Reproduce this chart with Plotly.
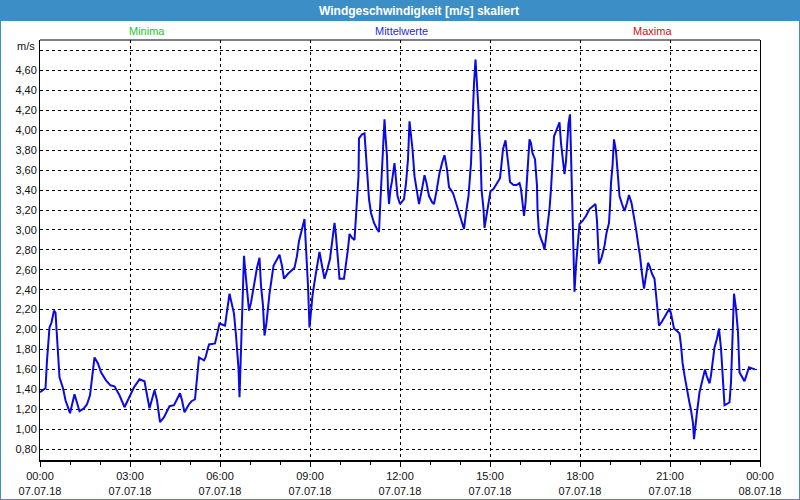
import pandas as pd
import plotly.graph_objects as go

# ---- data ----
times = [
    "00:00", "00:11", "00:14", "00:19", "00:23", "00:28", "00:31", "00:35", "00:39", "00:46",
    "00:51", "01:00", "01:09", "01:19", "01:28", "01:34", "01:40", "01:44", "01:49", "01:56",
    "02:02", "02:12", "02:21", "02:29", "02:39", "02:49", "02:59", "03:08", "03:19", "03:29",
    "03:33", "03:39", "03:49", "03:54", "04:00", "04:08", "04:19", "04:28", "04:35", "04:40",
    "04:44", "04:49", "04:58", "05:03", "05:10", "05:14", "05:18", "05:28", "05:31", "05:38",
    "05:50", "05:55", "05:59", "06:10", "06:13", "06:19", "06:23", "06:28", "06:32", "06:37",
    "06:39", "06:42", "06:44", "06:48", "06:50", "06:55", "06:58", "07:02", "07:08", "07:14",
    "07:19", "07:22", "07:26", "07:29", "07:33", "07:39", "07:47", "07:54", "07:59",
    "08:04", "08:08", "08:16", "08:29", "08:34", "08:38", "08:44", "08:49", "08:50", "08:53",
    "08:56", "08:59", "09:02", "09:05", "09:11", "09:19", "09:24", "09:29", "09:35", "09:40",
    "09:44", "09:49", "09:52", "09:55", "09:59", "10:08", "10:12", "10:16", "10:19", "10:24",
    "10:29", "10:32", "10:34", "10:37", "10:38", "10:44", "10:49", "10:53", "10:58", "11:02",
    "11:08", "11:14", "11:18", "11:20", "11:24", "11:26", "11:29", "11:31", "11:34", "11:36",
    "11:38", "11:41", "11:44", "11:49", "11:52", "11:55", "12:00", "12:08", "12:12", "12:16",
    "12:19", "12:22", "12:25", "12:29", "12:32", "12:35", "12:38", "12:44", "12:49", "12:53",
    "12:58", "13:04", "13:08", "13:13", "13:19", "13:25", "13:29", "13:34", "13:38", "13:46",
    "13:52", "13:59", "14:04", "14:08", "14:12", "14:17", "14:22", "14:25", "14:28", "14:31",
    "14:34", "14:37", "14:38", "14:41", "14:43", "14:47", "14:49", "14:52", "14:56", "15:01",
    "15:07", "15:13", "15:20", "15:23", "15:26", "15:31", "15:34", "15:37", "15:40", "15:47",
    "15:53", "15:59",
    "16:02", "16:05", "16:08", "16:11", "16:13", "16:16", "16:19", "16:22", "16:25", "16:30",
    "16:34", "16:35", "16:38", "16:42", "16:46", "16:49", "16:52", "16:55", "16:59", "17:02",
    "17:05", "17:08", "17:12", "17:16", "17:19", "17:22", "17:25", "17:29", "17:32", "17:35",
    "17:37", "17:40", "17:42", "17:44", "17:46", "17:47", "17:49", "17:52", "17:55", "17:59",
    "18:05", "18:12", "18:19", "18:25", "18:31", "18:34", "18:36", "18:38", "18:43", "18:49",
    "18:53", "18:58", "19:00", "19:02", "19:05", "19:08", "19:12", "19:16", "19:19", "19:24",
    "19:29", "19:34", "19:38", "19:43", "19:47", "19:52", "19:56", "20:00", "20:04", "20:08",
    "20:12", "20:16", "20:19", "20:24", "20:29", "20:32", "20:35", "20:38", "20:44", "20:49",
    "20:55", "20:59", "21:02", "21:05", "21:08", "21:13", "21:19", "21:22", "21:25", "21:29",
    "21:32", "21:35", "21:38", "21:42", "21:46", "21:48", "21:50", "21:54", "21:59", "22:04",
    "22:10", "22:13", "22:19", "22:22", "22:25", "22:29", "22:34", "22:38", "22:42", "22:46",
    "22:49", "22:53", "22:59", "23:02", "23:05", "23:08", "23:12", "23:16", "23:19", "23:24",
    "23:29", "23:34", "23:38", "23:44", "23:50",
]
mittelwerte = [
    1.37, 1.41, 1.69, 2.02, 2.07, 2.19, 2.17, 1.81, 1.52, 1.41,
    1.29, 1.16, 1.35, 1.18, 1.21, 1.25, 1.34, 1.51, 1.72, 1.66,
    1.57, 1.49, 1.44, 1.43, 1.34, 1.22, 1.32, 1.42, 1.50, 1.48,
    1.37, 1.21, 1.39, 1.29, 1.07, 1.12, 1.23, 1.24, 1.31, 1.36,
    1.29, 1.17, 1.25, 1.28, 1.30, 1.54, 1.72, 1.69, 1.72, 1.85,
    1.86, 1.97, 2.06, 2.04, 2.14, 2.36, 2.27, 2.16, 1.94, 1.61,
    1.32, 1.81, 2.19, 2.74, 2.62, 2.37, 2.19, 2.27, 2.46, 2.62,
    2.72, 2.44, 2.24, 1.94, 2.07, 2.36, 2.64, 2.71, 2.75,
    2.64, 2.51, 2.56, 2.62, 2.74, 2.89, 3.01, 3.11, 3.01, 2.77,
    2.44, 2.02, 2.21, 2.34, 2.54, 2.78, 2.64, 2.51, 2.61, 2.71,
    2.87, 3.07, 2.94, 2.71, 2.51, 2.51, 2.64, 2.81, 2.96, 2.92,
    2.90, 3.11, 3.31, 3.54, 3.92, 3.96, 3.97, 3.71, 3.31, 3.17,
    3.07, 3.01, 2.98, 3.21, 3.61, 3.87, 4.11, 3.94, 3.74, 3.41,
    3.26, 3.41, 3.49, 3.67, 3.52, 3.34, 3.26, 3.31, 3.47, 3.71,
    4.09, 3.96, 3.81, 3.54, 3.44, 3.34, 3.26, 3.41, 3.55, 3.47,
    3.34, 3.28, 3.26, 3.39, 3.57, 3.69, 3.75, 3.61, 3.43, 3.37,
    3.27, 3.16, 3.07, 3.01, 3.17, 3.34, 3.67, 4.19, 4.47, 4.71,
    4.47, 4.21, 4.01, 3.77, 3.41, 3.21, 3.02, 3.11, 3.24, 3.39,
    3.41, 3.46, 3.52, 3.66, 3.81, 3.90, 3.79, 3.64, 3.48, 3.45,
    3.45, 3.47,
    3.41, 3.27, 3.14, 3.27, 3.46, 3.64, 3.91, 3.87, 3.77, 3.71,
    3.44, 3.21, 2.97, 2.91, 2.86, 2.80, 2.91, 3.01, 3.21, 3.41,
    3.67, 3.94, 3.99, 4.04, 4.08, 3.87, 3.76, 3.56, 3.69, 3.94,
    4.07, 4.16, 3.81, 3.44, 3.07, 2.74, 2.38, 2.64, 2.84, 3.06,
    3.09, 3.14, 3.21, 3.24, 3.26, 3.09, 2.87, 2.66, 2.72, 2.84,
    2.97, 3.07, 3.24, 3.47, 3.64, 3.91, 3.79, 3.57, 3.34, 3.26,
    3.19, 3.27, 3.35, 3.27, 3.16, 3.01, 2.87, 2.74, 2.56, 2.41,
    2.54, 2.67, 2.64, 2.56, 2.51, 2.37, 2.24, 2.04, 2.08, 2.12,
    2.17, 2.21, 2.16, 2.07, 2.01, 1.99, 1.96, 1.84, 1.67, 1.54,
    1.44, 1.37, 1.29, 1.19, 1.06, 0.90, 1.01, 1.17, 1.37, 1.47,
    1.60, 1.54, 1.46, 1.54, 1.67, 1.82, 1.91, 2.01, 1.81, 1.54,
    1.24, 1.25, 1.27, 1.47, 1.97, 2.36, 2.21, 1.97, 1.57, 1.52,
    1.48, 1.56, 1.62, 1.61, 1.60,
]
y_tickvals = [0.8, 1.0, 1.2, 1.4, 1.6, 1.8, 2.0, 2.2, 2.4, 2.6, 2.8,
              3.0, 3.2, 3.4, 3.6, 3.8, 4.0, 4.2, 4.4, 4.6, 4.8]
y_ticktext = ["0,80", "1,00", "1,20", "1,40", "1,60", "1,80", "2,00", "2,20", "2,40", "2,60", "2,80",
              "3,00", "3,20", "3,40", "3,60", "3,80", "4,00", "4,20", "4,40", "4,60", ""]
title_text = "Windgeschwindigkeit [m/s] skaliert"
legend_labels = ["Minima", "Mittelwerte", "Maxima"]
legend_colors = ["#1ec81e", "#2a2ae6", "#c81414"]
day = "2018-07-07"

x = pd.to_datetime([f"{day} {t}" for t in times])

FONT = "Liberation Sans, Arial, sans-serif"
BAR = "#3c8fc6"
W, H = 800, 500
L, R, T, B = 40, 40, 40, 40
PW, PH = W - L - R, H - T - B


def px(xp):
    return (xp - L) / PW


def py(yp):
    return (H - B - yp) / PH


fig = go.Figure()
fig.add_trace(go.Scatter(
    x=x, y=mittelwerte, mode="lines",
    line=dict(color="#0a0ae6", width=2),
    hoverinfo="skip", showlegend=False,
))

fig.update_layout(
    width=W, height=H,
    margin=dict(l=L, r=R, t=T, b=B, pad=0, autoexpand=False),
    paper_bgcolor="white", plot_bgcolor="white",
    font=dict(family=FONT, size=11, color="#111111"),
    showlegend=False,
    xaxis=dict(
        type="date", automargin=False,
        range=[f"{day} 00:00", "2018-07-08 00:00"],
        tickmode="linear", tick0=f"{day} 00:00", dtick=3 * 3600000,
        tickformat="%H:%M<br>%d.%m.%y",
        ticks="outside", ticklen=5, tickwidth=1, tickcolor="black",
        minor=dict(tickmode="linear", tick0=f"{day} 00:00", dtick=3600000,
                   ticks="outside", ticklen=3, tickcolor="black", showgrid=False),
        showgrid=True, gridcolor="black", gridwidth=1, griddash="3px,3px",
        showline=True, linecolor="black", linewidth=2,
        zeroline=False, fixedrange=True,
        tickfont=dict(family=FONT, size=11, color="#111111"),
    ),
    yaxis=dict(
        automargin=False,
        range=[0.69, 4.907],
        tickmode="array", tickvals=y_tickvals, ticktext=y_ticktext,
        ticks="", showgrid=True, gridcolor="black", gridwidth=1, griddash="3px,3px",
        showline=True, linecolor="black", linewidth=1, mirror=True,
        zeroline=False, fixedrange=True,
        tickfont=dict(family=FONT, size=11, color="#111111"),
    ),
)

shapes = [
    # title bar
    dict(type="rect", xref="paper", yref="paper",
         x0=px(0), x1=px(W), y0=py(21), y1=py(0),
         fillcolor=BAR, line=dict(width=0), layer="above"),
    # window border
    dict(type="rect", xref="paper", yref="paper",
         x0=px(0), x1=px(W), y0=py(H), y1=py(0),
         fillcolor="rgba(0,0,0,0)", line=dict(color=BAR, width=2), layer="above"),
    # top frame line of plot
    dict(type="line", xref="paper", yref="paper",
         x0=0, x1=1, y0=1, y1=1, line=dict(color="black", width=1), layer="above"),
]
fig.update_layout(shapes=shapes)

annotations = [
    dict(text=f"<b>{title_text}</b>", x=px(419), y=py(10.5), xref="paper", yref="paper",
         xanchor="center", yanchor="middle", showarrow=False,
         font=dict(family=FONT, size=12, color="white")),
    dict(text="m/s", x=px(37), y=py(46), xref="paper", yref="paper",
         xanchor="right", yanchor="middle", showarrow=False,
         font=dict(family=FONT, size=11, color="#111111")),
]
for lab, col, cx in zip(legend_labels, legend_colors, [147, 401, 652]):
    annotations.append(dict(text=lab, x=px(cx), y=py(31), xref="paper", yref="paper",
                            xanchor="center", yanchor="middle", showarrow=False,
                            font=dict(family=FONT, size=11, color=col)))
fig.update_layout(annotations=annotations)

fig.write_html("out.html", config={"displayModeBar": False})
